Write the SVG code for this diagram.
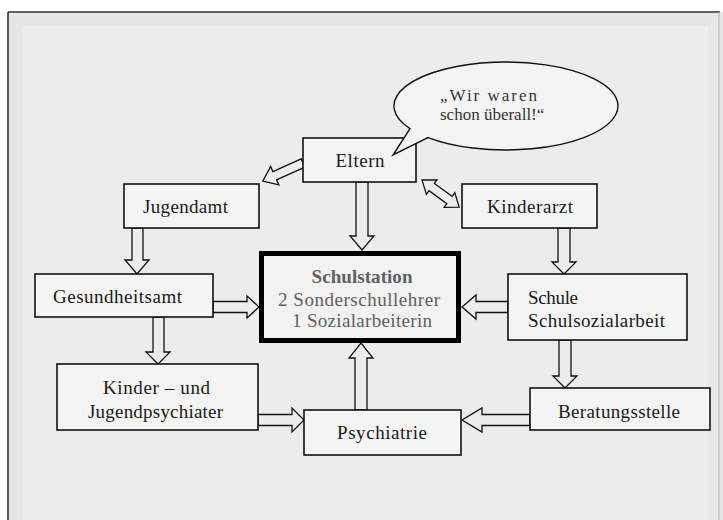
<svg xmlns="http://www.w3.org/2000/svg" width="723" height="520" viewBox="0 0 723 520">
<defs>
<style>
.box{fill:#f4f4f4;stroke:#111;stroke-width:1.6}
.main{fill:#f2f2f2;stroke:#000;stroke-width:5}
.t{font-family:"Liberation Serif","Times New Roman",serif;font-size:19px;fill:#1a1a1a}
.b{font-family:"Liberation Serif","Times New Roman",serif;font-size:17px;fill:#333}
.g{font-family:"Liberation Serif","Times New Roman",serif;font-size:19px;fill:#606060}
.arr{fill:#ececec;stroke:#111;stroke-width:1.3;stroke-linejoin:miter}
.bub{fill:#f3f3f3;stroke:#111;stroke-width:1.4}
</style>
</defs>
<rect x="0" y="0" width="723" height="520" fill="#ffffff"/>
<rect x="8" y="12" width="715" height="508" fill="#e6e6e6"/>
<rect x="22" y="26" width="686" height="494" fill="#ececec"/>
<line x1="8" y1="12" x2="720" y2="12" stroke="#333" stroke-width="1.6"/>
<line x1="8" y1="12" x2="8" y2="520" stroke="#333" stroke-width="1.6"/>
<line x1="719" y1="12" x2="719" y2="520" stroke="#b5b5b5" stroke-width="1"/>

<g id="connectors">
<polygon class="arr" points="356,182 368,182 368,236 374,236 362,250 350,236 356,236"/>
<polygon class="arr" points="132,228 143,228 143,260 149,260 137,274 125,260 132,260"/>
<polygon class="arr" points="558,228 570,228 570,262 576,262 564,274 552,262 558,262"/>
<polygon class="arr" points="559,340 571,340 571,376 577,376 565,388 553,376 559,376"/>
<polygon class="arr" points="153,317 164,317 164,352 170,352 158,364 146,352 153,352"/>
<polygon class="arr" points="355,410 367,410 367,358 373,358 361,343 349,358 355,358"/>
<polygon class="arr" points="213,301.5 247,301.5 247,296 259,307 247,318 247,312.5 213,312.5"/>
<polygon class="arr" points="508,301.5 476,301.5 476,295 462,307 476,319 476,312.5 508,312.5"/>
<polygon class="arr" points="530,414.5 482,414.5 482,408 462,420 482,432 482,425.5 530,425.5"/>
<polygon class="arr" points="258,414.5 292,414.5 292,408 304,420 292,432 292,425.5 258,425.5"/>
<polygon class="arr" transform="translate(303,163) rotate(155.8)" points="0,-4.5 31,-4.5 31,-10 44,0 31,10 31,4.5 0,4.5"/>
<polygon class="arr" transform="translate(422,180) rotate(36.1)" points="0,0 12,-9 12,-4.5 34,-4.5 34,-9 46,0 34,9 34,4.5 12,4.5 12,9"/>
</g>

<g id="eltern">
<rect class="box" x="303" y="138" width="113" height="44"/>
<text class="t" x="360" y="167" text-anchor="middle" textLength="49">Eltern</text>
</g>

<g id="bubble">
<path class="bub" d="M 428 137.6 A 112 44 0 1 0 410 128.7 L 393 155 Z"/>
<text class="b" x="440" y="101" textLength="97">„Wir waren</text>
<text class="b" x="440" y="120">schon überall!“</text>
</g>

<g id="jugendamt">
<rect class="box" x="124" y="184" width="135" height="44"/>
<text class="t" x="143" y="213" textLength="85">Jugendamt</text>
</g>

<g id="kinderarzt">
<rect class="box" x="462" y="184" width="135" height="44"/>
<text class="t" x="487" y="213" textLength="86">Kinderarzt</text>
</g>

<g id="gesundheitsamt">
<rect class="box" x="35" y="274" width="178" height="43"/>
<text class="t" x="53" y="303" textLength="129">Gesundheitsamt</text>
</g>

<g id="schulstation">
<rect class="main" x="261.5" y="253.5" width="197" height="87"/>
<text class="g" x="362" y="283" text-anchor="middle" font-weight="bold" textLength="101">Schulstation</text>
<text class="g" x="359" y="306" text-anchor="middle" textLength="162">2 Sonderschullehrer</text>
<text class="g" x="362" y="327" text-anchor="middle" textLength="140">1 Sozialarbeiterin</text>
</g>

<g id="schule">
<rect class="box" x="508" y="274" width="179" height="66"/>
<text class="t" x="528" y="304" textLength="50">Schule</text>
<text class="t" x="528" y="327" textLength="137">Schulsozialarbeit</text>
</g>

<g id="beratungsstelle">
<rect class="box" x="530" y="388" width="180" height="42"/>
<text class="t" x="558" y="418" textLength="122">Beratungsstelle</text>
</g>

<g id="kjp">
<rect class="box" x="57" y="364" width="201" height="66"/>
<text class="t" x="103" y="394" textLength="107">Kinder – und</text>
<text class="t" x="88" y="418" textLength="135">Jugendpsychiater</text>
</g>

<g id="psychiatrie">
<rect class="box" x="304" y="410" width="157" height="45"/>
<text class="t" x="337" y="439" textLength="90">Psychiatrie</text>
</g>
</svg>
